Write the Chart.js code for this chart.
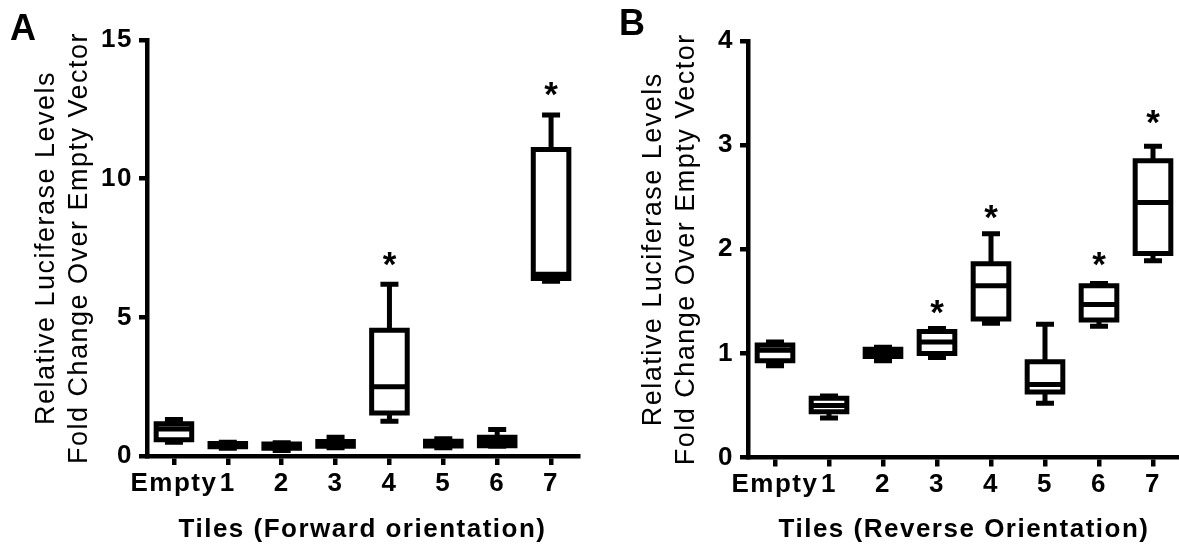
<!DOCTYPE html>
<html>
<head>
<meta charset="utf-8">
<script src="https://cdn.jsdelivr.net/npm/chart.js@4.4.1/dist/chart.umd.min.js"></script>
<style>
  body { margin: 0; background: #fff; overflow: hidden; }
  #wrap { position: relative; width: 1179px; height: 544px; }
  .panel { position: absolute; top: 0; width: 590px; height: 544px; }
  .tag { position: absolute; font: bold 36px 'Liberation Sans', Arial, sans-serif; color: #000; line-height: 1; }
</style>
</head>
<body>
<div id="wrap">
  <div class="panel" style="left:0"><canvas id="chartA" width="590" height="544"></canvas></div>
  <div class="panel" style="left:590px"><canvas id="chartB" width="590" height="544"></canvas></div>
  <div class="tag" style="left:10px;top:10px">A</div>
  <div class="tag" style="left:619px;top:5px">B</div>
</div>
<script>
const categories = ['Empty', '1', '2', '3', '4', '5', '6', '7'];

// Panel A - forward orientation (box: min, q1, median, q3, max)
const minA = [0.50, 0.28, 0.20, 0.30, 1.25, 0.30, 0.35, 6.30];
const q1A  = [0.59, 0.33, 0.28, 0.35, 1.55, 0.36, 0.37, 6.40];
const medA = [0.97, 0.38, 0.35, 0.45, 2.50, 0.45, 0.50, 6.55];
const q3A  = [1.16, 0.45, 0.43, 0.52, 4.53, 0.53, 0.68, 11.05];
const maxA = [1.32, 0.50, 0.48, 0.68, 6.19, 0.62, 0.96, 12.30];
const starA = [null, null, null, null, 7.12, null, null, 13.24];
const ticksA = [0, 5, 10, 15];

// Panel B - reverse orientation
const minB = [0.88, 0.38, 0.93, 0.96, 1.29, 0.52, 1.26, 1.89];
const q1B  = [0.93, 0.44, 0.97, 1.00, 1.33, 0.63, 1.32, 1.96];
const medB = [1.03, 0.50, 1.00, 1.11, 1.65, 0.70, 1.47, 2.45];
const q3B  = [1.08, 0.57, 1.04, 1.21, 1.86, 0.92, 1.65, 2.85];
const maxB = [1.11, 0.59, 1.06, 1.24, 2.15, 1.28, 1.67, 2.99];
const starB = [null, null, null, 1.45, 2.36, null, 1.91, 3.27];
const ticksB = [0, 1, 2, 3, 4];

Chart.defaults.font.family = "'Liberation Sans', Arial, sans-serif";
Chart.defaults.color = '#000';

function makeChart(id, p) {
  // whiskers, box outline, median and stars drawn from the bar elements + y scale
  const boxPlugin = {
    id: 'boxes',
    beforeDraw(chart) { chart.ctx.letterSpacing = '1.5px'; },
    afterDatasetsDraw(chart) {
      const ctx = chart.ctx;
      const ys = chart.scales.y;
      const bars = chart.getDatasetMeta(0).data;
      ctx.save();
      ctx.strokeStyle = '#000';
      ctx.lineWidth = 5;
      bars.forEach((bar, i) => {
        const x = bar.x, hw = bar.width / 2, cw = 9;
        const yMin = ys.getPixelForValue(p.min[i]);
        const yQ1 = ys.getPixelForValue(p.q1[i]);
        const yMed = ys.getPixelForValue(p.med[i]);
        const yQ3 = ys.getPixelForValue(p.q3[i]);
        const yMax = ys.getPixelForValue(p.max[i]);
        ctx.beginPath();
        ctx.moveTo(x, yQ3); ctx.lineTo(x, yMax);
        ctx.moveTo(x - cw, yMax); ctx.lineTo(x + cw, yMax);
        ctx.moveTo(x, yQ1); ctx.lineTo(x, yMin);
        ctx.moveTo(x - cw, yMin); ctx.lineTo(x + cw, yMin);
        ctx.moveTo(x - hw, yMed); ctx.lineTo(x + hw, yMed);
        ctx.rect(x - hw, yQ3, 2 * hw, yQ1 - yQ3);
        ctx.stroke();
        if (p.star[i] != null) {
          ctx.letterSpacing = '0px';
          ctx.font = "bold 35px 'Liberation Sans', Arial, sans-serif";
          ctx.fillStyle = '#000';
          ctx.textAlign = 'center';
          ctx.textBaseline = 'alphabetic';
          const m = ctx.measureText('*');
          const off = (m.actualBoundingBoxAscent - m.actualBoundingBoxDescent) / 2;
          ctx.fillText('*', x, ys.getPixelForValue(p.star[i]) + off);
        }
      });
      ctx.restore();
    }
  };

  return new Chart(document.getElementById(id), {
    type: 'bar',
    data: {
      labels: categories,
      datasets: [{
        data: p.q1.map((v, i) => [v, p.q3[i]]),
        backgroundColor: '#fff',
        borderWidth: 0,
        barPercentage: 0.66,
        categoryPercentage: 1
      }]
    },
    options: {
      responsive: false,
      animation: false,
      layout: { padding: { left: p.padLeft, top: p.top, right: p.padRight, bottom: 0 } },
      plugins: { legend: { display: false }, tooltip: { enabled: false } },
      scales: {
        x: {
          offset: true,
          grid: { offset: false, drawOnChartArea: false, tickLength: 9, lineWidth: 4.5, color: '#000' },
          border: { color: '#000', width: 4.5 },
          ticks: { color: '#000', font: { size: 26, weight: 'bold' }, padding: 3, maxRotation: 0, autoSkip: false },
          title: { display: true, text: p.xTitle, color: '#000', font: { size: 26, weight: 'bold', lineHeight: 1.08 }, padding: 0 },
          afterFit(s) { s.height = p.xHeight; }
        },
        y: {
          min: p.ticks[0],
          max: p.ticks[p.ticks.length - 1],
          ticks: { stepSize: p.ticks[1] - p.ticks[0], color: '#000', font: { size: 26, weight: 'bold' }, padding: 6 },
          grid: { drawOnChartArea: false, tickLength: 8, lineWidth: 4.5, color: '#000' },
          border: { color: '#000', width: 4.5 },
          title: {
            display: true,
            text: ['Relative Luciferase Levels', 'Fold Change Over Empty Vector'],
            color: '#000',
            font: { size: 27, weight: 'normal', lineHeight: 1.22 },
            padding: 0
          },
          afterFit(s) { s.width = p.yWidth; }
        }
      }
    },
    plugins: [boxPlugin]
  });
}

makeChart('chartA', {
  min: minA, q1: q1A, med: medA, q3: q3A, max: maxA, star: starA, ticks: ticksA,
  xTitle: 'Tiles (Forward orientation)',
  padLeft: 30, padRight: 12, top: 40, yWidth: 117, xHeight: 88
});

makeChart('chartB', {
  min: minB, q1: q1B, med: medB, q3: q3B, max: maxB, star: starB, ticks: ticksB,
  xTitle: 'Tiles (Reverse Orientation)',
  padLeft: 47, padRight: 0, top: 41, yWidth: 111, xHeight: 86.5
});
</script>
</body>
</html>
